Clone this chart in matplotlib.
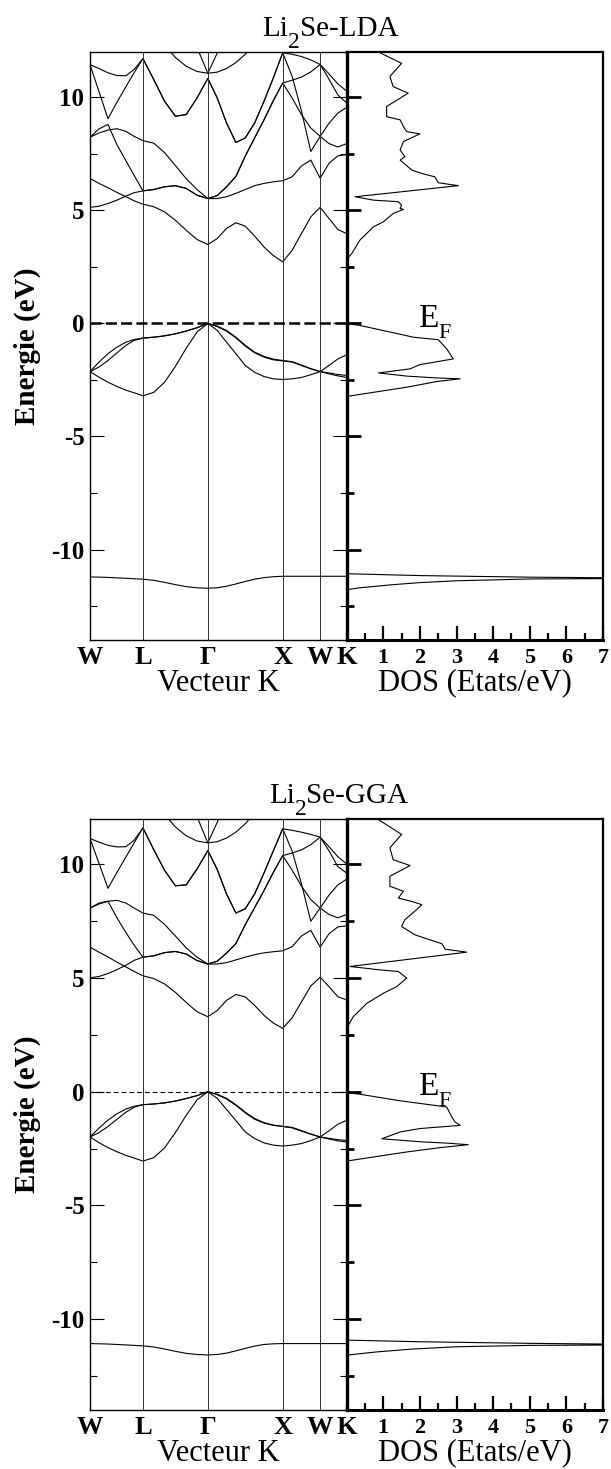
import matplotlib
matplotlib.use('Agg')
import matplotlib.pyplot as plt
from matplotlib.ticker import MultipleLocator

plt.rcParams['font.family'] = ['Liberation Serif', 'DejaVu Serif']
plt.rcParams['axes.unicode_minus'] = False
plt.rcParams['lines.scale_dashes'] = False

# k-path W-L-G-X-W-K, distances in units of 2pi/a
kpts = [0.0, 0.12, 0.24, 0.36, 0.48, 0.59, 0.707,
        0.851, 0.996, 1.140, 1.284, 1.429, 1.573,
        1.698, 1.823, 1.948, 2.073, 2.198, 2.323, 2.448, 2.573,
        2.698, 2.823, 2.948, 3.073,
        3.191, 3.309, 3.427]
sym_k = [0.0, 0.707, 1.573, 2.573, 3.073, 3.427]
sym_labels = ['W', 'L', 'Γ', 'X', 'W', 'K']

e_ticks = [-10, -5, 0, 5, 10]
e_tick_labels = ['-10', '-5', '0', '5', '10']
dos_ticks = [1, 2, 3, 4, 5, 6, 7]
dos_tick_labels = ['1', '2', '3', '4', '5', '6', '7']

# ---- LDA bands (eV) ----
lda_s = [-11.21, -11.22, -11.23, -11.25, -11.27, -11.29, -11.31,
         -11.36, -11.45, -11.55, -11.64, -11.69, -11.71,
         -11.69, -11.62, -11.52, -11.41, -11.31, -11.24, -11.20, -11.18,
         -11.18, -11.18, -11.18, -11.18,
         -11.18, -11.18, -11.18]
lda_v1 = [-2.13, -2.38, -2.60, -2.79, -2.95, -3.07, -3.20,
          -3.05, -2.60, -1.90, -1.10, -0.38, 0.0,
          -0.31, -0.83, -1.34, -1.86, -2.16, -2.35, -2.45, -2.48,
          -2.45, -2.39, -2.27, -2.13,
          -1.86, -1.57, -1.39]
lda_v2 = [-2.13, -1.93, -1.64, -1.30, -0.97, -0.75, -0.65,
          -0.61, -0.55, -0.46, -0.34, -0.19, 0.0,
          -0.14, -0.34, -0.64, -1.00, -1.30, -1.49, -1.61, -1.66,
          -1.71, -1.86, -2.01, -2.13,
          -2.19, -2.26, -2.30]
lda_v3 = [-2.13, -1.71, -1.34, -1.05, -0.83, -0.71, -0.65,
          -0.61, -0.55, -0.46, -0.34, -0.19, 0.0,
          -0.12, -0.31, -0.61, -0.97, -1.27, -1.46, -1.58, -1.64,
          -1.69, -1.84, -2.00, -2.13,
          -2.23, -2.32, -2.39]
lda_c1 = [6.41, 6.19, 6.00, 5.79, 5.60, 5.42, 5.27,
          5.16, 4.93, 4.56, 4.12, 3.71, 3.49,
          3.75, 4.20, 4.45, 4.30, 3.86, 3.38, 3.00, 2.72,
          3.23, 3.97, 4.71, 5.13,
          4.64, 4.15, 3.97]
lda_c2 = [5.13, 5.18, 5.30, 5.45, 5.63, 5.78, 5.86,
          5.92, 6.04, 6.09, 5.97, 5.67, 5.52,
          5.52, 5.60, 5.75, 5.92, 6.09, 6.19, 6.26, 6.31,
          6.48, 6.96, 7.22, 6.42,
          7.08, 7.41, 7.47]
lda_c3 = [8.23, 8.60, 8.80, 7.90, 7.19, 6.54, 5.86,
          5.92, 6.04, 6.09, 5.97, 5.67, 5.52,
          5.65, 6.04, 6.50, 7.40, 8.20, 9.00, 9.85, 10.63,
          9.97, 9.23, 8.64, 8.27,
          7.95, 7.80, 7.95]
lda_c4 = [8.23, 8.42, 8.55, 8.61, 8.49, 8.27, 8.08,
          7.97, 7.55, 6.98, 6.40, 5.92, 5.52,
          5.65, 6.04, 6.50, 7.40, 8.20, 9.00, 9.85, 10.63,
          10.75, 10.89, 11.12, 11.45,
          11.03, 10.59, 10.27]
lda_c5 = [11.44, 10.25, 9.05, 9.78, 10.47, 11.09, 11.71,
          10.78, 9.82, 9.16, 9.23, 9.97, 10.83,
          9.97, 8.86, 8.00, 8.20, 8.86, 9.82, 10.86, 11.96,
          10.93, 9.40, 7.60, 8.27,
          8.85, 9.30, 9.55]
lda_c6 = [11.44, 11.27, 11.08, 10.96, 10.95, 11.23, 11.71,
          10.78, 9.82, 9.16, 9.23, 9.97, 10.83,
          9.97, 8.86, 8.00, 8.20, 8.86, 9.82, 10.86, 11.96,
          11.90, 11.80, 11.65, 11.45,
          10.80, 10.10, 9.75]
lda_c7 = [14.0, 14.0, 14.0, 14.0, 14.0, 14.0, 14.0,
          13.0, 12.3, 11.76, 11.37, 11.14, 11.06,
          11.11, 11.27, 11.53, 11.90, 12.37, 12.95, 13.5, 14.0,
          14.0, 14.0, 14.0, 14.0,
          14.0, 14.0, 14.0]
lda_c8 = [14.0, 14.0, 14.0, 14.0, 14.0, 14.0, 14.0,
          14.0, 14.0, 14.0, 13.5, 12.2, 11.06,
          11.95, 13.0, 14.0, 14.0, 14.0, 14.0, 14.0, 14.0,
          14.0, 14.0, 14.0, 14.0,
          14.0, 14.0, 14.0]

# ---- GGA bands (eV) ----
gga_s = [-11.08, -11.09, -11.10, -11.12, -11.14, -11.16, -11.18,
         -11.23, -11.32, -11.42, -11.51, -11.56, -11.58,
         -11.56, -11.50, -11.40, -11.29, -11.19, -11.12, -11.09, -11.08,
         -11.08, -11.08, -11.08, -11.08,
         -11.08, -11.08, -11.08]
gga_v1 = [-1.99, -2.24, -2.46, -2.64, -2.80, -2.92, -3.05,
          -2.90, -2.47, -1.80, -1.04, -0.36, 0.0,
          -0.29, -0.78, -1.27, -1.77, -2.06, -2.25, -2.35, -2.39,
          -2.35, -2.28, -2.15, -1.99,
          -1.72, -1.43, -1.26]
gga_v2 = [-1.99, -1.80, -1.53, -1.21, -0.90, -0.68, -0.57,
          -0.54, -0.49, -0.41, -0.30, -0.17, 0.0,
          -0.13, -0.32, -0.60, -0.93, -1.21, -1.38, -1.48, -1.53,
          -1.59, -1.73, -1.87, -1.99,
          -2.05, -2.11, -2.14]
gga_v3 = [-1.99, -1.60, -1.25, -0.97, -0.76, -0.64, -0.57,
          -0.54, -0.49, -0.41, -0.30, -0.17, 0.0,
          -0.11, -0.29, -0.57, -0.90, -1.18, -1.36, -1.47, -1.52,
          -1.57, -1.71, -1.86, -1.99,
          -2.08, -2.16, -2.21]
gga_c1 = [6.36, 6.14, 5.93, 5.70, 5.49, 5.29, 5.10,
          4.98, 4.74, 4.37, 3.93, 3.52, 3.30,
          3.57, 4.02, 4.28, 4.17, 3.80, 3.36, 3.02, 2.79,
          3.25, 3.95, 4.65, 5.04,
          4.62, 4.18, 4.04]
gga_c2 = [5.01, 5.07, 5.20, 5.37, 5.57, 5.78, 5.92,
          5.98, 6.12, 6.17, 6.06, 5.77, 5.62,
          5.62, 5.68, 5.80, 5.92, 6.03, 6.11, 6.16, 6.20,
          6.38, 6.85, 7.10, 6.36,
          6.95, 7.25, 7.30]
gga_c3 = [8.08, 8.30, 8.38, 7.65, 7.00, 6.44, 5.92,
          5.98, 6.12, 6.17, 6.06, 5.77, 5.62,
          5.74, 6.10, 6.52, 7.35, 8.10, 8.85, 9.65, 10.39,
          9.75, 9.05, 8.45, 8.08,
          7.80, 7.65, 7.80]
gga_c4 = [8.08, 8.26, 8.38, 8.42, 8.30, 8.08, 7.86,
          7.76, 7.36, 6.85, 6.33, 5.92, 5.62,
          5.74, 6.10, 6.52, 7.35, 8.10, 8.85, 9.65, 10.39,
          10.50, 10.64, 10.87, 11.20,
          10.78, 10.34, 10.02]
gga_c5 = [11.14, 10.05, 8.95, 9.65, 10.33, 10.95, 11.61,
          10.65, 9.74, 9.06, 9.10, 9.80, 10.61,
          9.78, 8.70, 7.86, 8.05, 8.70, 9.62, 10.60, 11.57,
          10.60, 9.15, 7.50, 8.08,
          8.65, 9.10, 9.35]
gga_c6 = [11.14, 10.98, 10.84, 10.77, 10.78, 11.07, 11.61,
          10.65, 9.74, 9.06, 9.10, 9.80, 10.61,
          9.78, 8.70, 7.86, 8.05, 8.70, 9.62, 10.60, 11.57,
          11.50, 11.42, 11.32, 11.20,
          10.60, 9.90, 9.62]
gga_c7 = [14.0, 14.0, 14.0, 14.0, 14.0, 14.0, 14.0,
          12.95, 12.2, 11.65, 11.26, 11.03, 10.95,
          11.0, 11.16, 11.42, 11.79, 12.26, 12.84, 13.4, 14.0,
          14.0, 14.0, 14.0, 14.0,
          14.0, 14.0, 14.0]
gga_c8 = [14.0, 14.0, 14.0, 14.0, 14.0, 14.0, 14.0,
          14.0, 14.0, 14.0, 13.4, 12.1, 10.95,
          11.85, 12.9, 14.0, 14.0, 14.0, 14.0, 14.0, 14.0,
          14.0, 14.0, 14.0, 14.0,
          14.0, 14.0, 14.0]

lda_bands = [lda_s, lda_v1, lda_v2, lda_v3, lda_c1, lda_c2, lda_c3,
             lda_c4, lda_c5, lda_c6, lda_c7, lda_c8]
gga_bands = [gga_s, gga_v1, gga_v2, gga_v3, gga_c1, gga_c2, gga_c3,
             gga_c4, gga_c5, gga_c6, gga_c7, gga_c8]

# ---- total DOS (energy in eV, states/eV) ----
lda_dos_e = [12.0, 11.95, 11.5, 10.92, 10.47, 10.18, 9.59, 9.14, 9.0, 8.7,
             8.48, 8.38, 8.04, 7.67, 7.37, 7.22, 6.78, 6.63, 6.48, 6.22,
             6.09, 5.6, 5.45, 5.38, 5.23, 5.08, 5.04, 4.86, 4.49, 4.27,
             3.68, 3.09, 2.87, 2.8, 0.0, -0.09, -0.38, -0.61, -0.72, -1.12,
             -1.57, -1.67, -1.82, -2.01, -2.19, -2.33, -2.41, -2.45, -2.57, -2.82,
             -3.23, -11.05, -11.07, -11.15, -11.22, -11.27, -11.30, -11.38, -11.46, -11.56,
             -11.70, -11.78, -14.0]
lda_dos = [0.9, 0.93, 1.5, 1.18, 1.27, 1.68, 1.09, 1.09, 1.46, 1.55,
           1.64, 2.0, 1.55, 1.46, 1.59, 1.46, 1.78, 2.05, 2.41, 2.5,
           3.05, 0.23, 0.73, 1.41, 1.5, 1.46, 1.55, 1.27, 1.0, 0.73,
           0.36, 0.14, 0.02, 0.0, 0.0, 0.36, 1.18, 1.82, 2.5, 2.73,
           2.91, 2.55, 2.0, 1.73, 0.87, 1.64, 2.46, 3.1, 2.46, 1.64,
           0.0, 0.0, 0.05, 2.0, 5.0, 9.0, 5.0, 3.0, 2.0, 1.2,
           0.3, 0.0, 0.0]
gga_dos_e = [12.0, 11.95, 11.32, 10.73, 10.21, 9.95, 9.48, 9.04, 8.82, 8.52,
             8.37, 8.23, 8.01, 7.57, 7.27, 6.9, 6.68, 6.51, 6.27, 6.14,
             5.51, 5.36, 5.29, 5.0, 4.63, 4.33, 3.89, 3.3, 2.86, 2.8,
             -0.04, -0.11, -0.4, -0.67, -1.11, -1.33, -1.48, -1.62, -1.77, -2.07,
             -2.21, -2.26, -2.33, -2.46, -2.65, -3.05, -10.9, -10.93, -11.0, -11.07,
             -11.13, -11.16, -11.22, -11.32, -11.45, -11.58, -14.0]
gga_dos = [0.85, 0.89, 1.5, 1.18, 1.27, 1.73, 1.18, 1.18, 1.55, 1.41,
           1.78, 2.05, 1.91, 1.59, 1.5, 1.87, 2.28, 2.6, 2.69, 3.28,
           0.09, 0.91, 1.41, 1.64, 1.37, 1.0, 0.55, 0.18, 0.02, 0.0,
           0.0, 0.36, 1.46, 2.73, 2.87, 2.96, 3.1, 2.0, 1.46, 0.96,
           2.09, 2.73, 3.32, 2.55, 1.64, 0.0, 0.0, 0.05, 2.0, 5.0,
           9.0, 5.0, 3.0, 1.8, 0.8, 0.05, 0.0]

E_MIN, E_MAX = -14, 12
DOS_MAX = 7

fig = plt.figure(figsize=(6.11, 14.69), dpi=100)


def sub_text(ax, xy, coords, main, sub, size, sub_size, drop):
    # main text followed by a lowered, slightly smaller subscript and the rest
    head, tail = main
    t1 = ax.annotate(head, xy=xy, xycoords=coords, fontsize=size,
                     ha='left', va='baseline', annotation_clip=False)
    t2 = ax.annotate(sub, xy=(1, 0), xycoords=t1, xytext=(0, -drop),
                     textcoords='offset points', fontsize=sub_size,
                     ha='left', va='bottom', annotation_clip=False)
    if tail:
        ax.annotate(tail, xy=(1, 0), xycoords=(t2, t1), fontsize=size,
                    ha='left', va='bottom', annotation_clip=False)


def draw_panel(bottom, height, bands, dos_v, dos_e, formula, method, title_x, title_y,
               fermi_lw, fermi_dash):
    axb = fig.add_axes([0.1473, bottom, 0.4201, height])
    axd = fig.add_axes([0.5674, bottom, 0.4195, height])

    # band structure
    for band in bands:
        axb.plot(kpts, band, color='black', lw=0.8)
    for k in sym_k[1:-1]:
        axb.axvline(k, color='#303030', lw=0.7)
    axb.axhline(0.0, color='black', lw=fermi_lw, dashes=fermi_dash)
    axb.set_xlim(sym_k[0], sym_k[-1])
    axb.set_ylim(E_MIN, E_MAX)
    axb.set_xticks(sym_k)
    axb.set_xticklabels(sym_labels, fontsize=19, fontweight='bold')
    axb.tick_params(axis='x', length=0, pad=4)
    axb.set_yticks(e_ticks)
    axb.set_yticklabels(e_tick_labels, fontsize=18, fontweight='bold')
    axb.yaxis.set_minor_locator(MultipleLocator(2.5))
    axb.tick_params(axis='y', which='both', direction='in', left=True, right=True, width=0.8, pad=4)
    axb.tick_params(axis='y', which='major', length=10)
    axb.tick_params(axis='y', which='minor', length=5)
    for sp in axb.spines.values():
        sp.set_linewidth(1.0)
    axb.set_xlabel('Vecteur K', fontsize=22, labelpad=0)
    axb.set_ylabel('Energie (eV)', fontsize=21, fontweight='bold')
    axb.yaxis.set_label_coords(-0.19, 0.5)

    # density of states
    axd.plot(dos_v, dos_e, color='black', lw=0.8)
    axd.set_xlim(0, DOS_MAX)
    axd.set_ylim(E_MIN, E_MAX)
    axd.set_xticks(dos_ticks)
    axd.set_xticklabels(dos_tick_labels, fontsize=16, fontweight='bold')
    axd.xaxis.set_minor_locator(MultipleLocator(0.5))
    axd.yaxis.set_major_locator(MultipleLocator(5))
    axd.yaxis.set_minor_locator(MultipleLocator(2.5))
    axd.tick_params(axis='x', which='both', direction='in', bottom=True, top=False, width=1.6, pad=6)
    axd.tick_params(axis='x', which='major', length=10)
    axd.tick_params(axis='x', which='minor', length=5)
    axd.tick_params(axis='y', which='both', direction='in', left=True, right=False,
                    labelleft=False, width=2.0)
    axd.tick_params(axis='y', which='major', length=10)
    axd.tick_params(axis='y', which='minor', length=5)
    axd.spines['left'].set_linewidth(2.4)
    axd.spines['bottom'].set_linewidth(2.2)
    axd.spines['top'].set_linewidth(1.6)
    axd.spines['right'].set_linewidth(1.6)
    axd.set_xlabel('DOS (Etats/eV)', fontsize=22, labelpad=0)

    # Fermi level label
    sub_text(axd, (1.95, -0.15), 'data', ('E', ''), 'F', 24, 16, 6.3)
    # panel title
    sub_text(axd, (title_x, title_y), 'figure fraction', ('Li', 'Se-' + method), '2', 21, 17, 7.8)


draw_panel(0.5643, 0.4003, lda_bands, lda_dos, lda_dos_e, 'Li2Se', 'LDA',
           0.4288, 0.9755, 1.8, (8, 3))
draw_panel(0.0402, 0.4023, gga_bands, gga_dos, gga_dos_e, 'Li2Se', 'GGA',
           0.4400, 0.4532, 0.8, (3.4, 2.2))

fig.savefig('out.png', dpi=100)
